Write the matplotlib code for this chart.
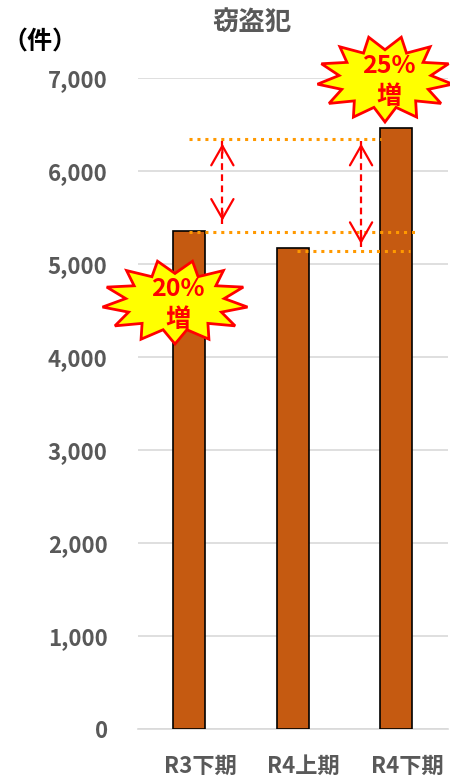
import numpy as np
import matplotlib
matplotlib.use('Agg')
import matplotlib.pyplot as plt
import matplotlib.transforms as mtransforms
from matplotlib.patches import Polygon, FancyArrowPatch

plt.rcParams['font.family'] = ['Noto Sans CJK JP', 'DejaVu Sans']

categories = ['R3下期', 'R4上期', 'R4下期']
counts = [5355, 5172, 6462]
yticks = [0, 1000, 2000, 3000, 4000, 5000, 6000, 7000]
# reference levels of the dotted guide lines
guide_top = 6344
guide_mid = 5345
guide_low = 5145

W, H = 450, 778


def fx(px):
    return px / W


def fy(py):
    return 1 - py / H


def starburst(fig, cx, cy, rx, ry, n=13, inner=0.68):
    pts = []
    for i in range(2 * n):
        a = np.pi * i / n + np.pi / (2 * n)
        r = 1.0 if i % 2 == 0 else inner
        pts.append((fx(cx + rx * r * np.cos(a)), fy(cy + ry * r * np.sin(a))))
    poly = Polygon(pts, closed=True, facecolor='#ffff00', edgecolor='#ff0000',
                   lw=2, transform=fig.transFigure, zorder=10)
    fig.patches.append(poly)


def double_arrow(ax, xa, y_top, y_bot):
    ax.plot([xa, xa], [y_top, y_bot], color='#ff0000', lw=1.6,
            ls=(0, (3, 2)), zorder=5)
    span = 160
    for start, end in [(y_top - span, y_top), (y_bot + span, y_bot)]:
        ax.add_patch(FancyArrowPatch((xa, start), (xa, end),
                                     arrowstyle='->,head_length=1.4,head_width=0.8',
                                     mutation_scale=10, color='#ff0000',
                                     lw=1.6, zorder=5))


fig = plt.figure(figsize=(W / 100, H / 100), dpi=100)
ax = fig.add_axes([fx(137.5), fy(729), fx(448) - fx(137.5), fy(78) - fy(729)])

x = np.arange(len(categories))
ax.bar(x, counts, width=0.31, color='#c55a11', edgecolor='black', lw=1.2,
       zorder=3)

ax.set_xlim(-0.5, 2.5)
ax.set_ylim(0, 7000)
ax.set_yticks(yticks)
ax.set_yticklabels([f'{v:,}' for v in yticks])
ax.set_xticks(x)
ax.set_xticklabels(categories)
ax.tick_params(length=0, labelsize=16, labelcolor='#595959')
ax.tick_params(axis='x', pad=19)
ax.tick_params(axis='y', pad=21.5)
shift = mtransforms.ScaledTranslation(11 / 100, 0, fig.dpi_scale_trans)
for lab in ax.get_xticklabels():
    lab.set_transform(lab.get_transform() + shift)
for lab in ax.get_xticklabels() + ax.get_yticklabels():
    lab.set_fontweight('bold')
ax.grid(axis='y', color='#d9d9d9', lw=1.2, zorder=0)
for s in ['top', 'right', 'left']:
    ax.spines[s].set_visible(False)
ax.spines['bottom'].set_color('#d9d9d9')
ax.spines['bottom'].set_linewidth(1.2)

# dotted guide lines
orange = '#ff9900'
ax.plot([0.0, 1.85], [guide_top, guide_top], ls=(0, (1, 1.6)), color=orange,
        lw=2.2, zorder=4)
ax.plot([0.0, 2.2], [guide_mid, guide_mid], ls=(0, (1, 1.6)), color=orange,
        lw=2.2, zorder=4)
ax.plot([1.04, 2.13], [guide_low, guide_low], ls=(0, (1, 1.6)), color=orange,
        lw=2.2, zorder=4)

# double-headed arrows
double_arrow(ax, 0.32, guide_top - 20, guide_mid + 90)
double_arrow(ax, 1.66, guide_top - 20, guide_low + 40)

# starbursts
starburst(fig, 175, 302, 73, 42)
starburst(fig, 385, 79, 68, 43)
for cx, cy, pct in [(178, 303, '20%'), (389, 80, '25%')]:
    fig.text(fx(cx), fy(cy - 14), pct, color='#ff0000', fontsize=18,
             fontweight='bold', ha='center', va='center', zorder=11)
    fig.text(fx(cx), fy(cy + 17), '増', color='#ff0000', fontsize=18,
             fontweight='bold', ha='center', va='center', zorder=11)

fig.text(fx(252), fy(22), '窃盗犯', color='#595959', fontsize=19,
         fontweight='bold', ha='center', va='center')
fig.text(fx(40), fy(42), '（件）', color='black', fontsize=18,
         fontweight='bold', ha='center', va='center')

fig.savefig('out.png', dpi=100)
